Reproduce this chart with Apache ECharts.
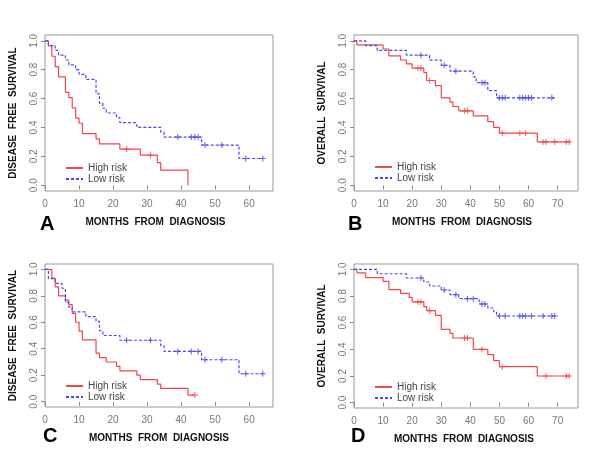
<!DOCTYPE html>
<html><head><meta charset="utf-8">
<script src="https://cdn.jsdelivr.net/npm/echarts@6/dist/echarts.min.js"></script>
<style>html,body{margin:0;padding:0;background:#fff}#c{width:600px;height:450px}</style>
</head><body><div id="c"></div><script>
// ---- Panel A ----
var aHighT = [0,1,2,3,4,6,7,8,9,10,11,15,16,22,28,33,34,42];
var aHighS = [1,0.964,0.893,0.821,0.75,0.643,0.607,0.536,0.464,0.429,0.357,0.321,0.286,0.25,0.208,0.156,0.104,0];
var aHighCensT = [24,31];
var aHighCensS = [0.25,0.208];
var aLowT = [0,1,3,4,6,7,9,10,12,15,16,17,18,21,22,27,34,35,46,57,64];
var aLowS = [1,0.967,0.933,0.9,0.867,0.833,0.8,0.767,0.733,0.633,0.567,0.533,0.5,0.467,0.433,0.4,0.367,0.333,0.278,0.185,0.185];
var aLowCensT = [39,43,44,45,47,52,59,64];
var aLowCensS = [0.333,0.333,0.333,0.333,0.278,0.278,0.185,0.185];
// ---- Panel B ----
var bHighT = [0,1,10,12,16,18,20,24,25,28,30,33,34,36,41,46,48,50,63,74];
var bHighS = [1,0.971,0.943,0.895,0.867,0.84,0.81,0.78,0.725,0.69,0.605,0.575,0.545,0.515,0.48,0.44,0.40,0.36,0.30,0.30];
var bHighCensT = [22,23,26,38,39,51,57,59,65,66,69,73,74];
var bHighCensS = [0.81,0.81,0.725,0.515,0.515,0.36,0.36,0.36,0.30,0.30,0.30,0.30,0.30];
var bLowT = [0,4,8,18,26,30,33,41,42,46,49,69];
var bLowS = [1,0.967,0.933,0.9,0.866,0.83,0.79,0.75,0.71,0.655,0.605,0.605];
var bLowCensT = [23,31,35,44,45,50,51,52,57,58,59,60,61,68];
var bLowCensS = [0.9,0.83,0.79,0.71,0.71,0.605,0.605,0.605,0.605,0.605,0.605,0.605,0.605,0.605];
// ---- Panel C ----
var cHighT = [0,2,3,4,6,7,8,9,10,11,15,16,18,21,22,27,28,33,34,42,44];
var cHighS = [1,0.933,0.867,0.8,0.767,0.733,0.667,0.6,0.533,0.467,0.367,0.333,0.3,0.267,0.233,0.2,0.167,0.133,0.1,0.05,0.05];
var cHighCensT = [44];
var cHighCensS = [0.05];
var cLowT = [0,1,3,5,6,7,8,12,15,16,17,22,34,35,46,57,64];
var cLowS = [1,0.929,0.893,0.857,0.75,0.714,0.679,0.643,0.607,0.536,0.5,0.464,0.422,0.38,0.317,0.211,0.211];
var cLowCensT = [24,31,39,43,45,47,52,59,64];
var cLowCensS = [0.464,0.464,0.38,0.38,0.38,0.317,0.317,0.211,0.211];
// ---- Panel D ----
var dHighT = [0,1,4,10,12,16,19,20,24,25,28,30,33,34,41,46,48,50,63,74];
var dHighS = [1,0.973,0.938,0.91,0.848,0.82,0.79,0.756,0.72,0.69,0.655,0.55,0.52,0.485,0.40,0.36,0.315,0.27,0.20,0.20];
var dHighCensT = [22,23,26,38,39,44,51,66,73,74];
var dHighCensS = [0.756,0.756,0.69,0.485,0.485,0.40,0.27,0.20,0.20,0.20];
var dLowT = [0,8,18,24,26,30,33,36,43,46,48,49,70];
var dLowS = [1,0.967,0.935,0.905,0.875,0.845,0.81,0.78,0.74,0.71,0.68,0.65,0.65];
var dLowCensT = [23,31,35,39,41,44,45,50,52,57,58,59,61,65,68,69];
var dLowCensS = [0.935,0.845,0.81,0.78,0.78,0.74,0.74,0.65,0.65,0.65,0.65,0.65,0.65,0.65,0.65,0.65];

var xTicks60 = [0,10,20,30,40,50,60];
var xTicks70 = [0,10,20,30,40,50,60,70];
var yTicks = [0,0.2,0.4,0.6,0.8,1.0];
var panelLetters = ['A','B','C','D'];
var xTitle = 'MONTHS  FROM  DIAGNOSIS';
var yTitleDFS = 'DISEASE  FREE  SURVIVAL';
var yTitleOS = 'OVERALL  SURVIVAL';
var legendNames = ['High risk','Low risk'];

var RED = '#f04848', BLUE = '#4848f0';
var FONT = 'Liberation Sans, Arial, sans-serif';

var panels = [
  {grid:{left:45,top:35,width:228,height:156}, xMax:67, ticks:xTicks60, yName:yTitleDFS, xPad:[0,7,0,0],
   hT:aHighT,hS:aHighS,hcT:aHighCensT,hcS:aHighCensS,lT:aLowT,lS:aLowS,lcT:aLowCensT,lcS:aLowCensS,
   legend:{left:65,top:163}, letter:{left:40,top:214}},
  {grid:{left:354,top:35,width:224,height:156}, xMax:77, ticks:xTicks70, yName:yTitleOS, xPad:[0,8,0,0],
   hT:bHighT,hS:bHighS,hcT:bHighCensT,hcS:bHighCensS,lT:bLowT,lS:bLowS,lcT:bLowCensT,lcS:bLowCensS,
   legend:{left:374,top:162}, letter:{left:348,top:214}},
  {grid:{left:45,top:264,width:228,height:143}, xMax:67, ticks:xTicks60, yName:yTitleDFS, xPad:[0,0,0,0],
   hT:cHighT,hS:cHighS,hcT:cHighCensT,hcS:cHighCensS,lT:cLowT,lS:cLowS,lcT:cLowCensT,lcS:cLowCensS,
   legend:{left:65,top:381}, letter:{left:43,top:426}},
  {grid:{left:354,top:264,width:224,height:144}, xMax:77, ticks:xTicks70, yName:yTitleOS, xPad:[0,4,0,0],
   hT:dHighT,hS:dHighS,hcT:dHighCensT,hcS:dHighCensS,lT:dLowT,lS:dLowS,lcT:dLowCensT,lcS:dLowCensS,
   legend:{left:374,top:382}, letter:{left:351,top:426}}
];

function zip(t,s){ return t.map(function(v,i){ return [v,s[i]]; }); }
var PLUS = 'path://M0,3H6M3,0V6';

var option = {
  animation:false,
  backgroundColor:'#ffffff',
  textStyle:{fontFamily:FONT},
  grid:[], xAxis:[], yAxis:[], series:[], legend:[], title:[]
};

panels.forEach(function(p,i){
  var g = Object.assign({show:true, borderColor:'#999', borderWidth:1, backgroundColor:'#fff'}, p.grid);
  option.grid.push(g);
  option.xAxis.push({
    type:'value', gridIndex:i, min:0, max:p.xMax,
    axisLine:{show:false},
    axisTick:{show:true, length:4, customValues:p.ticks, lineStyle:{color:'#888'}},
    axisLabel:{customValues:p.ticks, color:'#777', fontSize:10, margin:8, fontFamily:FONT},
    splitLine:{show:false},
    name:xTitle, nameLocation:'middle', nameGap:26,
    nameTextStyle:{fontWeight:'bold', fontSize:10, color:'#111', fontFamily:FONT, padding:p.xPad}
  });
  option.yAxis.push({
    type:'value', gridIndex:i, min:-0.04, max:1.04,
    axisLine:{show:false},
    axisTick:{show:true, length:4, customValues:yTicks, lineStyle:{color:'#888'}},
    axisLabel:{customValues:yTicks, color:'#777', fontSize:10, margin:6, rotate:90, fontFamily:FONT,
      formatter:function(v){ return v.toFixed(1); }},
    splitLine:{show:false},
    name:p.yName, nameLocation:'middle', nameGap:27,
    nameTextStyle:{fontWeight:'bold', fontSize:10, color:'#111', fontFamily:FONT}
  });
  option.series.push({
    name:'High risk', type:'line', step:'end', xAxisIndex:i, yAxisIndex:i,
    symbol:'none', data:zip(p.hT,p.hS), lineStyle:{color:RED, width:1.2}, itemStyle:{color:RED}
  });
  option.series.push({
    name:'Low risk', type:'line', step:'end', xAxisIndex:i, yAxisIndex:i,
    symbol:'none', data:zip(p.lT,p.lS), lineStyle:{color:BLUE, width:1.2, type:[3,2]}, itemStyle:{color:BLUE}
  });
  option.series.push({
    name:'High risk censored', type:'scatter', xAxisIndex:i, yAxisIndex:i,
    symbol:PLUS, symbolSize:6, data:zip(p.hcT,p.hcS),
    itemStyle:{color:'rgba(0,0,0,0)', borderColor:RED, borderWidth:1.1}
  });
  option.series.push({
    name:'Low risk censored', type:'scatter', xAxisIndex:i, yAxisIndex:i,
    symbol:PLUS, symbolSize:6, data:zip(p.lcT,p.lcS),
    itemStyle:{color:'rgba(0,0,0,0)', borderColor:BLUE, borderWidth:1.1}
  });
  option.legend.push({
    left:p.legend.left, top:p.legend.top, orient:'vertical', padding:0,
    itemWidth:17, itemHeight:8, itemGap:1, data:legendNames, selectedMode:false,
    itemStyle:{opacity:0},
    textStyle:{fontSize:10, color:'#444', lineHeight:9, fontFamily:FONT}
  });
  option.title.push({
    text:panelLetters[i], left:p.letter.left, top:p.letter.top, padding:0,
    textStyle:{fontSize:20, fontWeight:'bold', color:'#000', fontFamily:FONT}
  });
});

var chart = echarts.init(document.getElementById('c'), null, {renderer:'canvas'});
chart.setOption(option);
</script></body></html>
